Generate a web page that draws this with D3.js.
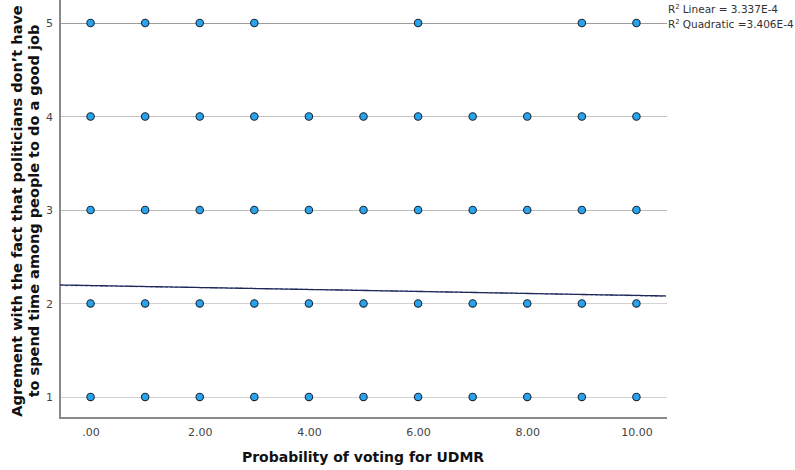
<!DOCTYPE html>
<html>
<head>
<meta charset="utf-8">
<script src="https://cdn.jsdelivr.net/npm/d3@7"></script>
<style>
  html, body { margin: 0; padding: 0; background: #fff; }
  svg { display: block; font-family: "DejaVu Sans", "Liberation Sans", sans-serif; }
</style>
</head>
<body>
<svg id="chart" width="795" height="470"></svg>
<script>
// Scatter of agreement scores (1–5) against probability of voting for UDMR (0–10)
const xValues = [0, 1, 2, 3, 4, 5, 6, 7, 8, 9, 10];
const yLevels = [1, 2, 3, 4, 5];
// x positions present at each agreement level
const row5 = [0, 1, 2, 3, 6, 9, 10];
const row4 = [0, 1, 2, 3, 4, 5, 6, 7, 8, 9, 10];
const row3 = [0, 1, 2, 3, 4, 5, 6, 7, 8, 9, 10];
const row2 = [0, 1, 2, 3, 4, 5, 6, 7, 8, 9, 10];
const row1 = [0, 1, 2, 3, 4, 5, 6, 7, 8, 9, 10];
const xTickValues = [0, 2, 4, 6, 8, 10];
const xTickLabels = [".00", "2.00", "4.00", "6.00", "8.00", "10.00"];
const yTickLabels = ["1", "2", "3", "4", "5"];
// fitted curves: linear and quadratic
const linearFit = { intercept: 2.192, slope: -0.0106 };
const quadraticFit = { c0: 2.188, c1: -0.0085, c2: -0.0002 };
const r2Linear = "3.337E-4";
const r2Quadratic = "3.406E-4";

const svg = d3.select("#chart");
const plot = { left: 60, right: 667, top: 0, bottom: 418 };

const x = d3.scaleLinear().domain([-0.56, 10.56]).range([plot.left, plot.right]);
const y = d3.scaleLinear().domain([0.775, 5.246]).range([plot.bottom, plot.top]);

// horizontal reference lines at each level
const gridColor = { 5: "#9c9c9c", 4: "#c2c2c2", 3: "#bcbcbc", 2: "#d2d2d2", 1: "#d2d2d2" };
svg.append("g").selectAll("line")
  .data(yLevels)
  .join("line")
  .attr("x1", plot.left)
  .attr("x2", plot.right)
  .attr("y1", d => Math.round(y(d)) + 0.5)
  .attr("y2", d => Math.round(y(d)) + 0.5)
  .attr("stroke", d => gridColor[d])
  .attr("stroke-width", 1.2);

// axes
const yAxis = d3.axisLeft(y).tickValues(yLevels).tickFormat((d, i) => yTickLabels[i]).tickSize(0).tickPadding(7);
const gy = svg.append("g").attr("transform", `translate(${plot.left},0)`).call(yAxis);
gy.select(".domain").remove();
gy.selectAll("text").attr("font-size", 11).attr("fill", "#444")
  .attr("font-family", "DejaVu Sans, sans-serif");

const xAxis = d3.axisBottom(x).tickValues(xTickValues).tickFormat((d, i) => xTickLabels[i]).tickSize(0).tickPadding(10);
const gx = svg.append("g").attr("transform", `translate(0,${plot.bottom})`).call(xAxis);
gx.select(".domain").remove();
gx.selectAll("text").attr("font-size", 11).attr("fill", "#444")
  .attr("font-family", "DejaVu Sans, sans-serif");

svg.append("line")
  .attr("x1", plot.left).attr("x2", plot.left)
  .attr("y1", plot.top).attr("y2", plot.bottom + 1)
  .attr("stroke", "#8a8a8a").attr("stroke-width", 2);
svg.append("line")
  .attr("x1", plot.left - 1).attr("x2", plot.right)
  .attr("y1", plot.bottom).attr("y2", plot.bottom)
  .attr("stroke", "#8a8a8a").attr("stroke-width", 2);

// fit lines
const sampleX = d3.range(-0.56, 10.57, 0.1);
const lineGen = d3.line().x(d => x(d[0])).y(d => y(d[1]));
svg.append("path")
  .datum(sampleX.map(v => [v, quadraticFit.c0 + quadraticFit.c1 * v + quadraticFit.c2 * v * v]))
  .attr("d", lineGen)
  .attr("fill", "none")
  .attr("stroke", "#7f8fc0")
  .attr("stroke-width", 1.2)
  .attr("stroke-dasharray", "3,2");
svg.append("path")
  .datum(sampleX.map(v => [v, linearFit.intercept + linearFit.slope * v]))
  .attr("d", lineGen)
  .attr("fill", "none")
  .attr("stroke", "#1d2758")
  .attr("stroke-width", 1.3);

// points
const points = [];
[[1, row1], [2, row2], [3, row3], [4, row4], [5, row5]].forEach(([lvl, xs]) => {
  xs.forEach(v => points.push({ x: v, y: lvl }));
});
svg.append("g").selectAll("circle")
  .data(points)
  .join("circle")
  .attr("cx", d => x(d.x))
  .attr("cy", d => y(d.y))
  .attr("r", 3.7)
  .attr("fill", "#2aa3ef")
  .attr("stroke", "#1b2a38")
  .attr("stroke-width", 1.1);

// legend text
const legend = svg.append("g").attr("font-size", 10.5).attr("fill", "#333");
const l1 = legend.append("text").attr("x", 668).attr("y", 13);
l1.append("tspan").text("R");
l1.append("tspan").attr("font-size", 7).attr("dy", -4).text("2");
l1.append("tspan").attr("dy", 4).attr("dx", 3).text("Linear = " + r2Linear);
const l2 = legend.append("text").attr("x", 668).attr("y", 28);
l2.append("tspan").text("R");
l2.append("tspan").attr("font-size", 7).attr("dy", -4).text("2");
l2.append("tspan").attr("dy", 4).attr("dx", 3).text("Quadratic =" + r2Quadratic);

// axis titles
svg.append("text")
  .attr("x", 363).attr("y", 462)
  .attr("text-anchor", "middle")
  .attr("font-size", 14).attr("font-weight", "bold").attr("fill", "#111")
  .text("Probability of voting for UDMR");

const yt = svg.append("text")
  .attr("transform", "translate(0,211) rotate(-90)")
  .attr("text-anchor", "middle")
  .attr("font-size", 14.5).attr("font-weight", "bold").attr("fill", "#111");
yt.append("tspan").attr("x", 0).attr("y", 22).text("Agrement with the fact that politicians don\u2019t have");
yt.append("tspan").attr("x", 0).attr("y", 39).text("to spend time among people to do a good job");
</script>
</body>
</html>
